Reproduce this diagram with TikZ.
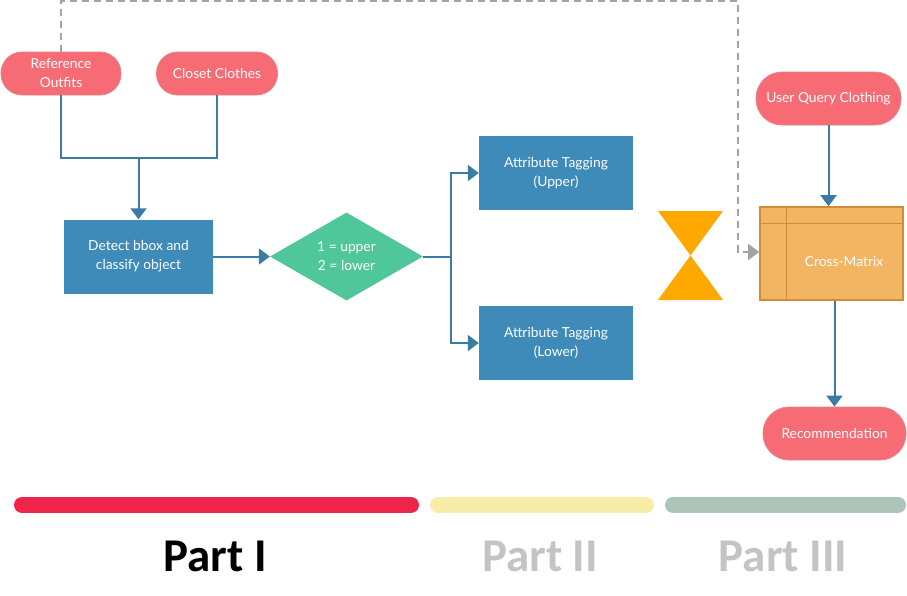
\documentclass[tikz,border=0pt]{standalone}
\usepackage{fontspec}
\setmainfont{Lato}
\newfontfamily\partfont{Carlito}
\usetikzlibrary{arrows.meta,shapes.geometric}
\definecolor{pill}{HTML}{F76B74}
\definecolor{pilledge}{HTML}{E5848A}
\definecolor{boxblue}{HTML}{3E8AB8}
\definecolor{lineblue}{HTML}{3A7CA6}
\definecolor{dgreen}{HTML}{50C79A}
\definecolor{hour}{HTML}{FFA800}
\definecolor{cmfill}{HTML}{F2B563}
\definecolor{cmedge}{HTML}{D38B36}
\definecolor{dashgray}{HTML}{A3A3A3}
\definecolor{barred}{HTML}{EE2548}
\definecolor{baryel}{HTML}{F8EDA8}
\definecolor{bargrn}{HTML}{ADC4BA}
\definecolor{partgray}{HTML}{C4C4C4}
\tikzset{
  nodefont/.style={font=\fontsize{13.8}{19}\selectfont},
  pillnode/.style={draw=pilledge, line width=0.8pt, fill=pill, text=white, rounded corners=21pt,
    minimum height=43pt, inner sep=2pt, align=center, nodefont},
  bluebox/.style={fill=boxblue, text=white, minimum width=149pt, minimum height=74pt,
    align=center, nodefont, inner sep=0pt},
  conn/.style={draw=lineblue, line width=2pt},
  arr/.style={conn, -{Triangle[length=11pt,width=16pt]}},
  dasharr/.style={draw=dashgray, line width=2pt, dash pattern=on 7pt off 5pt,
    -{Triangle[length=11pt,width=16pt,fill=dashgray]}},
  bar/.style={line width=16pt, line cap=round},
  parttext/.style={font=\partfont\bfseries\fontsize{47}{52}\selectfont}
}
\begin{document}
\begin{tikzpicture}[x=1pt,y=-1pt]
\useasboundingbox (0,0) rectangle (907,595);
% top pills
\node[pillnode, minimum width=120pt] (ref) at (61,73.5) {Reference\\Outfits};
\node[pillnode, minimum width=121pt] (closet) at (217,73.5) {Closet Clothes};
\node[pillnode, minimum width=145pt, minimum height=53pt, rounded corners=26pt] (user) at (828.5,98.5) {User Query Clothing};
\node[pillnode, minimum width=143pt, minimum height=53pt, rounded corners=26pt] (rec) at (834.5,433.5) {Recommendation};
% blue boxes
\node[bluebox] (detect) at (138.5,256.5) {Detect bbox and\\classify object};
\node[bluebox, minimum width=154pt] (upper) at (556,173) {Attribute Tagging\\(Upper)};
\node[bluebox, minimum width=154pt] (lower) at (556,343) {Attribute Tagging\\(Lower)};
% diamond
\node[diamond, fill=dgreen, text=white, minimum width=153pt, minimum height=88pt, aspect=1.74,
  inner sep=0pt, align=center, nodefont] (dec) at (346.5,256.5) {1 = upper\\2 = lower};
% hourglass
\fill[hour] (658,211) -- (723,211) -- (690.5,255.5) -- cycle;
\fill[hour] (690.5,255.5) -- (723,300) -- (658,300) -- cycle;
% cross matrix
\node[draw=cmedge, line width=1.6pt, fill=cmfill, minimum width=143pt, minimum height=93pt,
  inner sep=0pt] (cross) at (831.5,253.5) {};
\draw[cmedge, line width=1.4pt] ([xshift=27pt]cross.north west) -- ([xshift=27pt]cross.south west);
\draw[cmedge, line width=1.4pt] ([yshift=-17pt]cross.north west) -- ([yshift=-17pt]cross.north east);
\node[text=white, nodefont] (crosslabel) at (844,262) {Cross-Matrix};
% connectors
\coordinate (join) at (138.5,158);
\draw[conn] (ref.south) |- (join) -| (closet.south);
\draw[arr] (join) -- (detect.north);
\draw[arr] (detect.east) -- (dec.west);
\coordinate (split) at (451,256.5);
\draw[conn] (dec.east) -- (split);
\draw[arr] (split) |- (upper.west);
\draw[arr] (split) |- (lower.west);
\draw[arr] (user.south) -- (user.south |- cross.north);
\draw[arr] (rec.north |- cross.south) -- (rec.north);
\coordinate (dashtop) at (738,1);
\draw[dasharr] (ref.north) |- (dashtop) |- ([yshift=1.5pt]cross.west);
% bars
\draw[bar, barred] (22,505) -- (411,505);
\draw[bar, baryel] (438,505) -- (646,505);
\draw[bar, bargrn] (673,505) -- (898,505);
\node[parttext, text=black] (p1) at (215,556) {Part I};
\node[parttext, text=partgray] (p2) at (540,556) {Part II};
\node[parttext, text=partgray] (p3) at (783,556) {Part III};
\end{tikzpicture}
\end{document}
